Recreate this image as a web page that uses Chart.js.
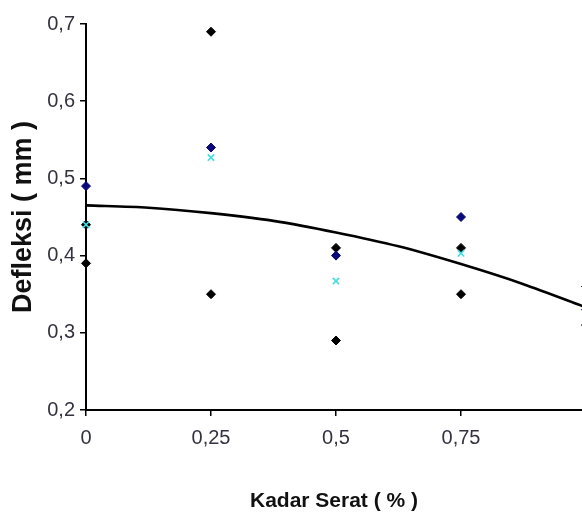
<!DOCTYPE html>
<html><head><meta charset="utf-8">
<script src="https://cdn.jsdelivr.net/npm/chart.js@4.4.0/dist/chart.umd.min.js"></script>
<style>html,body{margin:0;padding:0;background:#fff;} #wrap{width:582px;height:516px;position:relative;}</style>
</head><body><div id="wrap"><canvas id="c"></canvas></div>
<script>
// Data
const kadarSerat   = [0, 0.25, 0.5, 0.75, 1];
const sampleBlue   = [0.49, 0.54, 0.40, 0.45, 0.33];
const sampleBlackA = [0.39, 0.69, 0.41, 0.41, 0.36];
const sampleBlackB = [0.44, 0.35, 0.29, 0.35, 0.31];
const rataRata     = [0.44, 0.527, 0.367, 0.403, 0.334];
const trendX = [0, 0.125, 0.25, 0.375, 0.5, 0.625, 0.75, 0.875, 1];
const trendY = [0.465, 0.462, 0.455, 0.445, 0.430, 0.412, 0.389, 0.363, 0.333];
const xTicks = [0, 0.25, 0.5, 0.75, 1];
const yTicks = [0.2, 0.3, 0.4, 0.5, 0.6, 0.7];

const pts = (xs, ys) => xs.map((x, i) => ({x: x, y: ys[i]}));
const commaFmt = v => String(Math.round(v * 100) / 100).replace('.', ',');

const tickFont = {family: "'Liberation Sans', Arial, sans-serif", size: 20};
const titleFont = {family: "'Liberation Sans', Arial, sans-serif", weight: 'bold'};

new Chart(document.getElementById('c'), {
  type: 'scatter',
  data: {
    datasets: [
      {label: 'Trend', type: 'line', data: pts(trendX, trendY), borderColor: '#000', borderWidth: 2.6,
       pointRadius: 0, tension: 0.3, fill: false, order: 4},
      {label: 'A', data: pts(kadarSerat, sampleBlackA), pointStyle: 'rectRot', pointRadius: 4.5,
       backgroundColor: '#000', borderColor: '#000', borderWidth: 1, clip: false, order: 3},
      {label: 'B', data: pts(kadarSerat, sampleBlackB), pointStyle: 'rectRot', pointRadius: 4.5,
       backgroundColor: '#000', borderColor: '#000', borderWidth: 1, clip: false, order: 3},
      {label: 'C', data: pts(kadarSerat, sampleBlue), pointStyle: 'rectRot', pointRadius: 4.5,
       backgroundColor: '#0a0a7a', borderColor: '#0a0a7a', borderWidth: 1, clip: false, order: 2},
      {label: 'Rata-rata', data: pts(kadarSerat, rataRata), pointStyle: 'crossRot', pointRadius: 4.5,
       backgroundColor: '#3ddede', borderColor: '#3ddede', borderWidth: 1.6, clip: false, order: 1}
    ]
  },
  options: {
    responsive: true, maintainAspectRatio: false, animation: false,
    layout: {autoPadding: false, padding: {top: 24, right: 0, left: 0, bottom: 0}},
    plugins: {legend: {display: false}, tooltip: {enabled: false}},
    scales: {
      x: {
        type: 'linear', min: 0, max: 0.992,
        afterBuildTicks: s => { s.ticks = xTicks.map(v => ({value: v})); },
        afterFit: s => { s.height = 106; s.paddingRight = 0; s.paddingLeft = 0; },
        grid: {display: true, drawOnChartArea: false, drawTicks: true, tickLength: 6, color: '#000', lineWidth: 1.5},
        border: {display: true, color: '#000', width: 2},
        ticks: {font: tickFont, color: '#333340', padding: 10, callback: v => commaFmt(v), autoSkip: false, maxRotation: 0},
        title: {display: true, text: 'Kadar Serat ( % )', font: Object.assign({size: 21}, titleFont), color: '#111', padding: {top: 0, bottom: 2}}
      },
      y: {
        type: 'linear', min: 0.2, max: 0.7,
        afterBuildTicks: s => { s.ticks = yTicks.map(v => ({value: v})); },
        afterFit: s => { s.width = 86; s.paddingTop = 0; s.paddingBottom = 0; },
        grid: {display: true, drawOnChartArea: false, drawTicks: true, tickLength: 6, color: '#000', lineWidth: 1.5},
        border: {display: true, color: '#000', width: 2},
        ticks: {font: tickFont, color: '#333340', padding: 5, callback: v => commaFmt(v)},
        title: {display: true, text: 'Defleksi ( mm )', font: Object.assign({size: 27}, titleFont), color: '#111', padding: {top: 7, bottom: 0}}
      }
    }
  }
});
</script>
</body></html>
